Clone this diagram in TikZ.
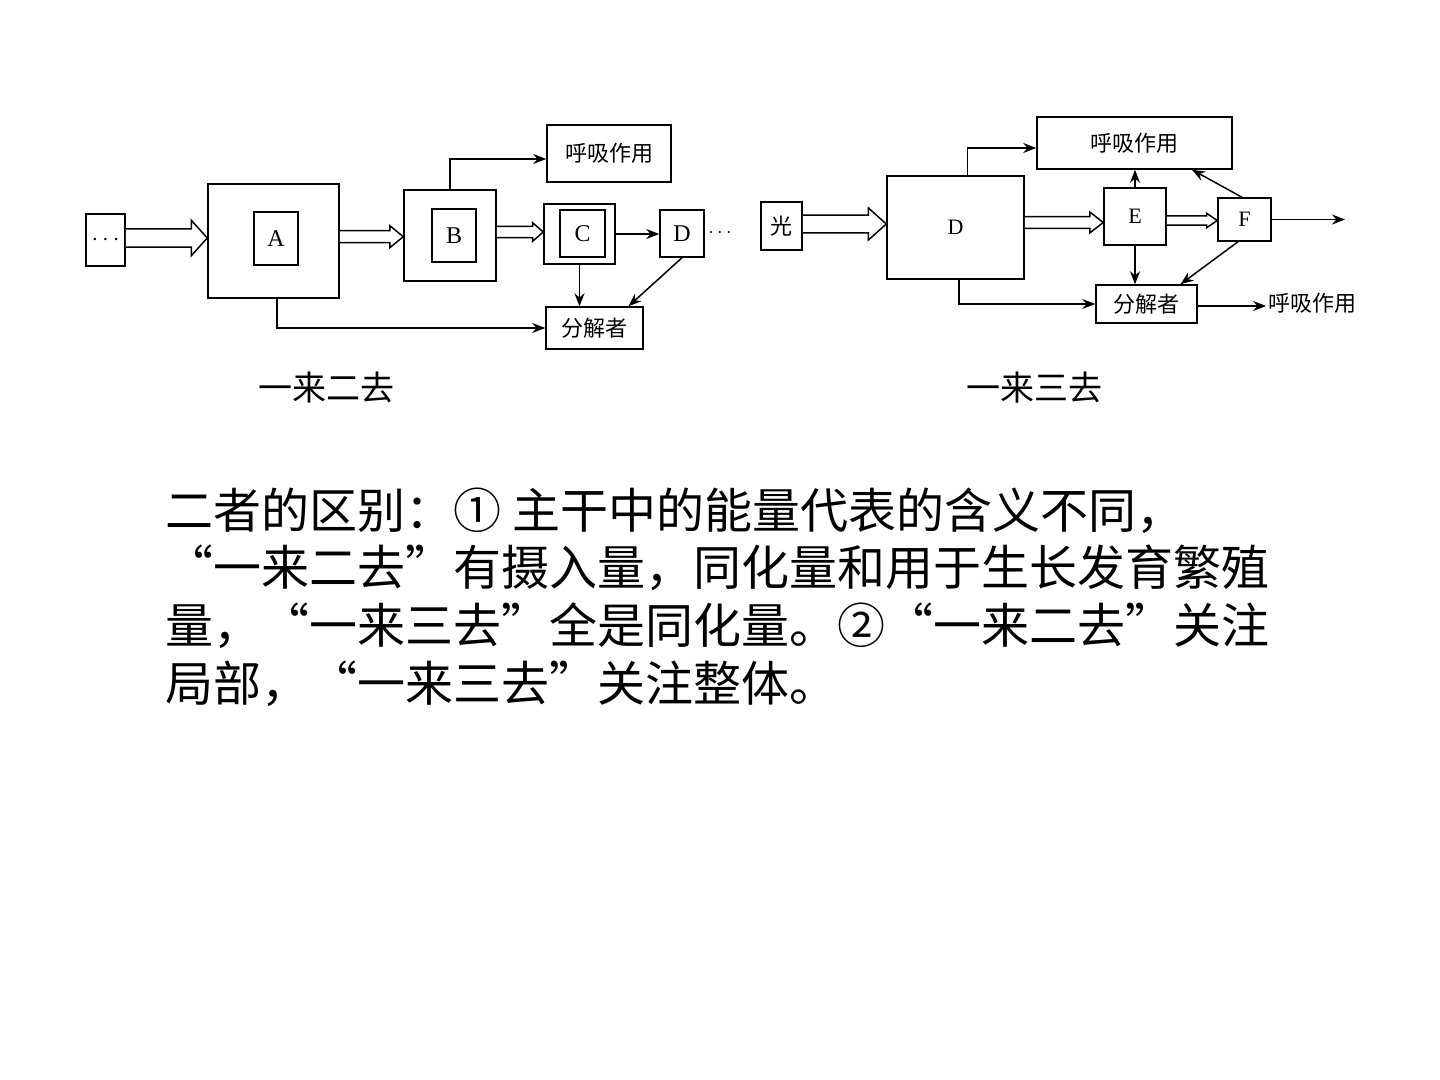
\documentclass[tikz,border=0pt]{standalone}
\usepackage{fontspec}
\setmainfont{Liberation Serif}
\newfontfamily\cjk{Noto Sans CJK SC}
\usetikzlibrary{calc,arrows.meta}

\tikzset{
	box/.style={draw=black, line width=0.75pt, inner sep=0pt, font=\fontsize{12}{14}\selectfont},
	hollow/.style={draw=black, fill=white, line width=0.75pt, line join=miter},
	arr/.style={-{Stealth[length=6.5pt,width=5pt]}, line width=0.75pt, draw=black},
	lbl/.style={font=\cjk\fontsize{11}{13}\selectfont},
	captext/.style={inner sep=0.75pt, font=\cjk\fontsize{17}{20}\selectfont},
	para/.style={anchor=base west, inner sep=0pt, font=\cjk\fontsize{24}{29}\selectfont}
}

% src, dst, y (px), shaft half (pt), head half (pt), head length (pt)
\newcommand{\fatarrow}[6]{%
	\draw[hollow] let \p1=(#1.east), \p2=(#2.west), \p3=(0,#3) in
	(\x1,\y3+#4pt) -- (\x2-#6pt,\y3+#4pt) -- (\x2-#6pt,\y3+#5pt) -- (\x2,\y3)
	-- (\x2-#6pt,\y3-#5pt) -- (\x2-#6pt,\y3-#4pt) -- (\x1,\y3-#4pt);
}

\begin{document}
\begin{tikzpicture}[x=0.5pt,y=0.5pt,yscale=-1,xscale=1]

	\useasboundingbox (0,0) rectangle (1440,1080);

	%%ONE IN TWO OUT---------------------------------------------
	\node (dots0) [box, minimum width=19.5pt, minimum height=26pt] at (105.5,240) {$\cdots$};
	\node (Aout) [box, minimum width=65.5pt, minimum height=57pt] at (273.5,241) {};
	\node (Ain) [box, minimum width=22pt, minimum height=26.5pt] at (276,238.5) {A};
	\node (Bout) [box, minimum width=46pt, minimum height=45.5pt] at (450,235.5) {};
	\node (Bin) [box, minimum width=22pt, minimum height=26.5pt] at (454,235.5) {B};
	\node (Cout) [box, minimum width=35.5pt, minimum height=30pt] at (579.5,234) {};
	\node (Cin) [box, minimum width=22.5pt, minimum height=23.5pt] at (582.5,233.5) {C};
	\node (Dl) [box, minimum width=22pt, minimum height=23.5pt] at (682,233.5) {D};
	\node (resp1) [box, lbl, minimum width=62pt, minimum height=28.5pt] at (609,153.5) {呼吸作用};
	\node (dec1) [box, lbl, minimum width=48.5pt, minimum height=21pt] at (594.5,328) {分解者};
	\draw (720,233) node (more1) [inner sep=0.75pt] {$\cdots$};

	%%hollow arrows
	\fatarrow{dots0}{Aout}{238}{4.6}{8.9}{8}
	\fatarrow{Aout}{Bout}{236.7}{3}{5.5}{6.7}
	\fatarrow{Bout}{Cout}{232}{2.85}{4.6}{5.3}

	%%thin arrows
	\draw [arr] (Bout.north) |- ([yshift=2.75pt]resp1.west);
	\draw [arr] (Cout.east) -- (Cout.east -| Dl.west);
	\draw [arr] (Cout.south) -- (Cout.south |- dec1.north);
	\draw [arr] (Dl.south) -- ([xshift=17pt]dec1.north);
	\draw [arr] ([xshift=1.75pt]Aout.south) |- (dec1.west);

	%%ONE IN THREE OUT---------------------------------------------
	\node (light) [box, lbl, minimum width=20.5pt, minimum height=24pt] at (781.5,226) {光};
	\node (Dr) [box, font=\fontsize{11}{13}\selectfont, minimum width=68.5pt, minimum height=51.5pt] at (955.5,227.5) {D};
	\node (resp2) [box, lbl, minimum width=97.5pt, minimum height=26pt] at (1134.5,143) {呼吸作用};
	\node (E) [box, font=\fontsize{11}{13}\selectfont, minimum width=31pt, minimum height=28.5pt] at (1135,216.5) {E};
	\node (F) [box, font=\fontsize{11}{13}\selectfont, minimum width=26.5pt, minimum height=21.5pt] at (1244.5,219.5) {F};
	\node (dec2) [box, lbl, minimum width=50.5pt, minimum height=19pt] at (1146.5,304) {分解者};
	\draw (1312,303) node (resp3) [lbl, inner sep=0.75pt] {呼吸作用};
	\coordinate (out) at (1345,219.5);

	%%hollow arrows
	\fatarrow{light}{Dr}{224}{4.4}{8}{8.9}
	\fatarrow{Dr}{E}{222.5}{2.9}{5.2}{6.7}
	\fatarrow{E}{F}{220.5}{2.35}{3.6}{5.3}

	%%thin arrows
	\draw [arr] ([xshift=6pt]Dr.north) |- ([yshift=2.5pt]resp2.west);
	\draw [arr] (E.north) -- (E.north |- resp2.south);
	\draw [arr] (E.south) -- (E.south |- dec2.north);
	\draw [arr] ([xshift=-1.25pt]F.north) -- ([xshift=28.75pt]resp2.south);
	\draw [arr] ([xshift=-3.25pt]F.south) -- ([xshift=17pt]dec2.north);
	\draw [arr] (F.east) -- (out);
	\draw [arr] ([xshift=1.75pt]Dr.south) |- (dec2.west);
	\draw [arr] ([yshift=1pt]dec2.east) -- ([yshift=1pt]dec2.east -| resp3.west);

	%%captions
	\draw (326,388) node (cap1) [captext] {一来二去};
	\draw (1034,388) node (cap2) [captext] {一来三去};

	%%Text
	\draw (165,528) node (line1) [para] {二者的区别：① 主干中的能量代表的含义不同，};
	\draw (165,585) node (line2) [para] {“一来二去”有摄入量，同化量和用于生长发育繁殖};
	\draw (165,643) node (line3) [para] {量，“一来三去”全是同化量。②“一来二去”关注};
	\draw (165,701) node (line4) [para] {局部，“一来三去”关注整体。};

\end{tikzpicture}
\end{document}
